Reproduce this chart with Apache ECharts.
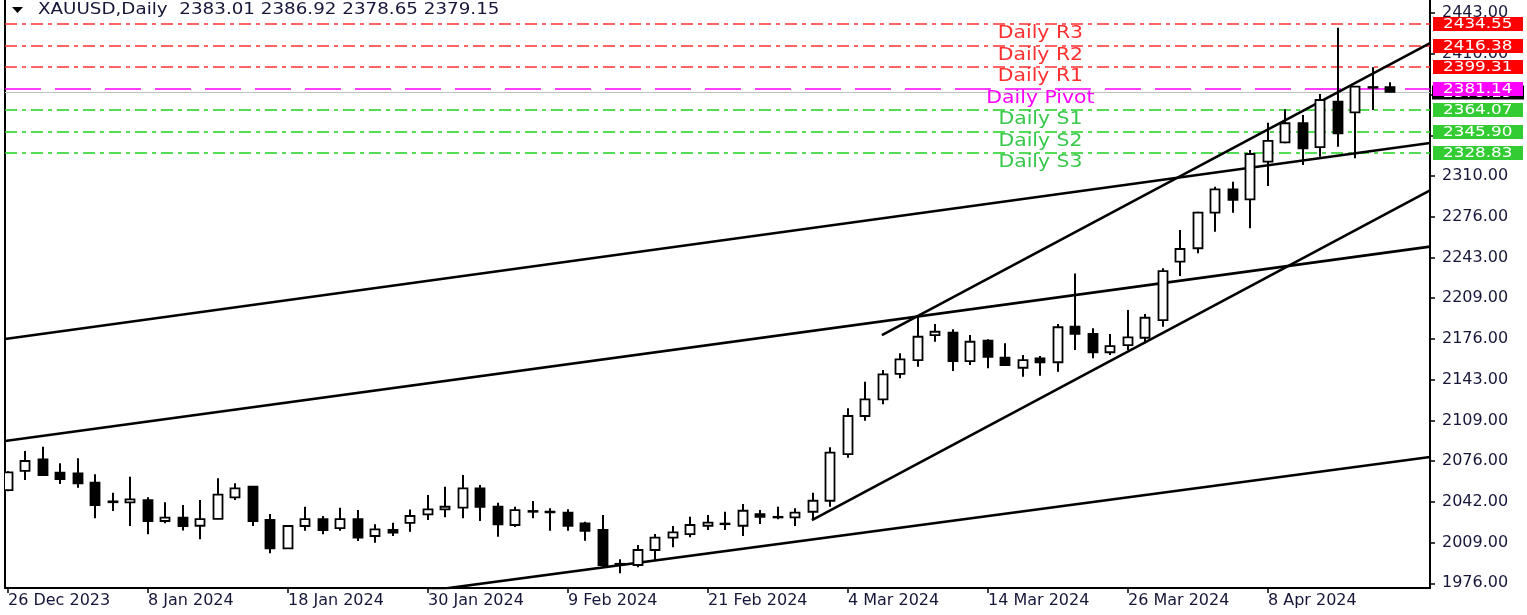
<!DOCTYPE html>
<html><head><meta charset="utf-8">
<script src="https://cdn.jsdelivr.net/npm/echarts@6/dist/echarts.min.js"></script>
<style>html,body{margin:0;padding:0;background:#fff}#c{width:1527px;height:615px}</style>
</head><body><div id="c"></div>
<script>
// ---------------- data ----------------
const symbolName = 'XAUUSD,Daily';
const dates = ['26 Dec 2023','27 Dec 2023','28 Dec 2023','29 Dec 2023','2 Jan 2024','3 Jan 2024','4 Jan 2024','5 Jan 2024',
  '8 Jan 2024','9 Jan 2024','10 Jan 2024','11 Jan 2024','12 Jan 2024','15 Jan 2024','16 Jan 2024','17 Jan 2024',
  '18 Jan 2024','19 Jan 2024','22 Jan 2024','23 Jan 2024','24 Jan 2024','25 Jan 2024','26 Jan 2024','29 Jan 2024',
  '30 Jan 2024','31 Jan 2024','1 Feb 2024','2 Feb 2024','5 Feb 2024','6 Feb 2024','7 Feb 2024','8 Feb 2024',
  '9 Feb 2024','12 Feb 2024','13 Feb 2024','14 Feb 2024','15 Feb 2024','16 Feb 2024','19 Feb 2024','20 Feb 2024',
  '21 Feb 2024','22 Feb 2024','23 Feb 2024','26 Feb 2024','27 Feb 2024','28 Feb 2024','29 Feb 2024','1 Mar 2024',
  '4 Mar 2024','5 Mar 2024','6 Mar 2024','7 Mar 2024','8 Mar 2024','11 Mar 2024','12 Mar 2024','13 Mar 2024',
  '14 Mar 2024','15 Mar 2024','18 Mar 2024','19 Mar 2024','20 Mar 2024','21 Mar 2024','22 Mar 2024','25 Mar 2024',
  '26 Mar 2024','27 Mar 2024','28 Mar 2024','1 Apr 2024','2 Apr 2024','3 Apr 2024','4 Apr 2024','5 Apr 2024',
  '8 Apr 2024','9 Apr 2024','10 Apr 2024','11 Apr 2024','12 Apr 2024','15 Apr 2024','16 Apr 2024','17 Apr 2024'];
const opens = [2052.5,2068.2,2077.7,2066.7,2066.2,2058.5,2042.5,2042.4,2044.3,2027.1,2029.8,2023.2,2028.8,2046.5,2055.2,2027.9,
  2004.7,2023.0,2028.7,2021.2,2028.7,2014.8,2019.7,2025.5,2032.6,2036.7,2038.0,2053.9,2038.8,2023.8,2035.3,2034.8,
  2033.9,2025.2,2019.7,1991.5,1991.0,2003.3,2013.4,2016.4,2023.2,2025.0,2023.2,2032.8,2030.5,2030.1,2034.7,2043.7,
  2082.0,2113.2,2126.9,2147.7,2159.1,2179.6,2181.5,2158.3,2175.0,2161.0,2152.8,2160.5,2157.3,2186.4,2180.5,2165.5,
  2171.4,2177.4,2191.9,2239.8,2250.8,2280.0,2299.1,2290.9,2321.8,2337.7,2353.3,2333.7,2371.0,2362.3,2382.5,2383.01];
const highs = [2068.0,2084.5,2088.0,2074.4,2078.5,2065.4,2050.3,2063.4,2046.5,2042.4,2040.2,2044.3,2062.1,2058.0,2055.6,2032.8,
  2023.5,2038.8,2031.2,2038.0,2036.1,2024.4,2025.7,2036.6,2048.4,2055.2,2064.8,2056.6,2042.1,2038.8,2043.6,2037.5,
  2036.7,2026.5,2032.0,1995.7,2007.4,2016.4,2023.0,2030.6,2032.0,2034.7,2041.0,2036.1,2038.8,2037.5,2050.3,2087.5,
  2119.5,2141.3,2150.9,2164.6,2194.8,2188.6,2184.3,2179.6,2176.1,2172.8,2163.2,2162.4,2188.7,2230.0,2185.1,2180.5,
  2200.1,2196.9,2234.3,2265.8,2280.8,2301.3,2305.4,2331.4,2353.8,2364.8,2360.1,2377.3,2431.6,2383.9,2399.2,2386.92];
const lows = [2051.5,2060.7,2064.0,2057.4,2054.4,2029.3,2035.3,2023.0,2016.2,2025.2,2019.3,2012.1,2028.5,2044.3,2023.0,2000.6,
  2004.3,2019.1,2016.2,2019.1,2010.7,2009.3,2014.8,2018.3,2027.9,2030.1,2029.3,2027.1,2014.2,2022.2,2029.3,2019.1,
  2019.1,2010.9,1989.1,1984.2,1989.1,1995.1,2005.5,2013.7,2019.7,2019.7,2014.8,2024.6,2028.5,2023.0,2027.9,2038.8,
  2079.0,2109.3,2122.8,2144.1,2153.6,2174.1,2150.1,2155.0,2152.3,2154.2,2145.4,2146.3,2149.5,2167.3,2160.5,2163.2,
  2167.3,2172.8,2186.4,2228.0,2246.6,2264.4,2280.0,2267.2,2301.8,2336.9,2319.0,2325.9,2334.1,2324.6,2364.2,2378.65];
const closes = [2067.0,2076.3,2064.8,2061.5,2058.0,2040.2,2043.2,2044.9,2027.1,2029.8,2023.0,2028.7,2048.7,2053.9,2027.1,2004.7,
  2023.0,2028.7,2019.7,2028.7,2013.4,2020.3,2017.5,2031.2,2036.7,2038.8,2053.9,2038.8,2024.4,2036.1,2034.7,2034.2,
  2023.2,2019.1,1991.0,1992.0,2003.3,2013.4,2017.8,2023.8,2025.7,2024.5,2035.5,2030.6,2030.0,2033.9,2043.7,2083.1,
  2113.2,2126.9,2147.4,2159.7,2178.2,2182.3,2158.3,2174.1,2161.8,2155.0,2159.1,2157.3,2186.0,2180.5,2165.5,2170.6,
  2177.7,2193.8,2232.1,2250.2,2280.0,2299.1,2290.4,2328.1,2338.8,2353.3,2332.8,2372.4,2345.1,2383.3,2383.0,2379.15];
const xTickIndex = [0, 8, 16, 24, 32, 40, 48, 56, 64, 72];
const yTickValues = [1976, 2009.4, 2042.8, 2076.2, 2109.6, 2143, 2176.4, 2209.8, 2243.2, 2276.6, 2310, 2343.4, 2376.8, 2410.2, 2443.6];
const levelNames  = ['Daily R3', 'Daily R2', 'Daily R1', 'Daily Pivot', 'Daily S1', 'Daily S2', 'Daily S3'];
const levelValues = [2434.55, 2416.38, 2399.31, 2381.14, 2364.07, 2345.90, 2328.83];
const levelKinds  = ['R', 'R', 'R', 'P', 'S', 'S', 'S'];
// trend line anchors: [bar index, price]
const trendA = [[-0.17, 2176.4], [81.26, 2337.1]];
const trendB = [[-0.17, 2092.7], [81.26, 2252.1]];
const trendC = [[20.0, 1962.2], [81.26, 2079.6]];
const channelUpper = [[49.94, 2179.6], [81.26, 2419.1]];
const channelLower = [[45.94, 2027.9], [81.26, 2298.2]];

// ---------------- config ----------------
const X_MIN = -0.17, X_MAX = 81.26, Y_MIN = 1972.15, Y_MAX = 2454.4;
const LABEL_X = 59;
const FONT = '"DejaVu Sans", Verdana, sans-serif';
const TXT = '#16163a';
const levelStyle = {
  R: {line: '#ff3030', text: '#ff3030', box: '#ff0000', dash: [12, 5, 4, 5]},
  P: {line: '#ff00ff', text: '#ff00ff', box: '#ff00ff', dash: [36, 14]},
  S: {line: '#1ed21e', text: '#38c84c', box: '#33cc33', dash: [12, 5, 4, 5]}
};

const candleData = dates.map((d, i) => [i, opens[i], highs[i], lows[i], closes[i]]);
const last = candleData.length - 1;
const headerText = symbolName + '  ' + [opens[last], highs[last], lows[last], closes[last]].map(v => v.toFixed(2)).join(' ');
const bid = closes[last];

function renderCandle(params, api) {
  const i = api.value(0), o = api.value(1), h = api.value(2), l = api.value(3), c = api.value(4);
  const pO = api.coord([i, o]), pC = api.coord([i, c]), pH = api.coord([i, h]), pL = api.coord([i, l]);
  const x = Math.round(pO[0]);
  const w = 9;
  const top = Math.min(pO[1], pC[1]), bot = Math.max(pO[1], pC[1]);
  const up = c >= o;
  return {type: 'group', children: [
    {type: 'line', shape: {x1: x, y1: pH[1], x2: x, y2: pL[1]}, style: {stroke: '#000', lineWidth: 2}},
    {type: 'rect', shape: {x: x - w / 2, y: top, width: w, height: Math.max(bot - top, 0.01)},
      style: {fill: up ? '#fff' : '#000', stroke: '#000', lineWidth: 1.8}}
  ]};
}

function renderLevel(params, api) {
  const idx = params.dataIndex;
  const v = api.value(0);
  const st = levelStyle[levelKinds[idx]];
  const pL = api.coord([X_MIN, v]), pR = api.coord([X_MAX, v]), pN = api.coord([LABEL_X, v]);
  const y = Math.round(pL[1]);
  return {type: 'group', children: [
    {type: 'line', shape: {x1: pL[0], y1: y, x2: pR[0], y2: y}, style: {stroke: st.line, lineWidth: 1.5, lineDash: st.dash}},
    {type: 'text', x: pN[0], y: y + 9.5, scaleX: 1.2,
      style: {text: levelNames[idx], fill: st.text, fontSize: 17, fontFamily: FONT, align: 'center', verticalAlign: 'middle'}},
    {type: 'rect', shape: {x: pR[0] + 3, y: y - 7, width: 90, height: 14}, style: {fill: st.box}},
    {type: 'text', x: pR[0] + 13, y: y + 0.5, scaleX: 1.2,
      style: {text: v.toFixed(2), fill: '#fff', fontSize: 14, fontFamily: FONT, align: 'left', verticalAlign: 'middle'}}
  ]};
}

function renderBid(params, api) {
  const v = api.value(0);
  const pL = api.coord([X_MIN, v]), pR = api.coord([X_MAX, v]);
  const y = Math.round(pL[1]) + 0.5;
  return {type: 'group', children: [
    {type: 'line', shape: {x1: pL[0], y1: y, x2: pR[0], y2: y}, style: {stroke: '#c0c0c0', lineWidth: 1}},
    {type: 'rect', shape: {x: pR[0] + 2, y: y - 7, width: 92, height: 14}, style: {fill: '#000'}},
    {type: 'text', x: pR[0] + 13, y: y + 0.5, scaleX: 1.2,
      style: {text: v.toFixed(2), fill: '#fff', fontSize: 14, fontFamily: FONT, align: 'left', verticalAlign: 'middle'}}
  ]};
}

function trendSeries(pts) {
  return {type: 'line', data: pts, symbol: 'none', silent: true, clip: true, z: 3,
    lineStyle: {color: '#000', width: 2.6}, xAxisIndex: 0, yAxisIndex: 0};
}

const chart = echarts.init(document.getElementById('c'), null, {renderer: 'canvas'});
chart.setOption({
  animation: false,
  backgroundColor: '#fff',
  grid: {left: 5, right: 97, top: 0, bottom: 27, containLabel: false, outerBoundsMode: 'none'},
  xAxis: {
    type: 'value', min: X_MIN, max: X_MAX,
    axisLine: {show: true, onZero: false, lineStyle: {color: '#000', width: 2}},
    axisTick: {show: true, customValues: xTickIndex, length: 5, inside: false, lineStyle: {color: '#000', width: 1.5}},
    axisLabel: {customValues: xTickIndex, formatter: v => dates[Math.round(v)] || '', align: 'left', margin: 5,
      color: TXT, fontSize: 16, fontFamily: FONT},
    splitLine: {show: false}
  },
  yAxis: [{
    type: 'value', position: 'right', min: Y_MIN, max: Y_MAX,
    axisLine: {show: true, onZero: false, lineStyle: {color: '#000', width: 2}},
    axisTick: {show: true, customValues: yTickValues, length: 5, lineStyle: {color: '#000', width: 1.5}},
    axisLabel: {customValues: yTickValues, formatter: v => Math.floor(v + 1e-6).toFixed(2), margin: 12,
      color: TXT, fontSize: 16, fontFamily: FONT, verticalAlign: 'middle'},
    splitLine: {show: false}
  }, {
    type: 'value', position: 'left', min: Y_MIN, max: Y_MAX,
    axisLine: {show: true, onZero: false, lineStyle: {color: '#000', width: 2}},
    axisTick: {show: false}, axisLabel: {show: false}, splitLine: {show: false}
  }],
  graphic: [
    {type: 'polygon', shape: {points: [[12, 7], [23, 7], [17.5, 13]]}, style: {fill: '#000'}, z: 100},
    {type: 'text', x: 38, y: 10.5, scaleX: 1.22, z: 100,
      style: {text: headerText, fill: TXT, fontSize: 15, fontFamily: FONT, verticalAlign: 'middle'}}
  ],
  series: [
    {type: 'custom', name: 'bid', renderItem: renderBid, data: [[bid]], encode: {y: 0}, clip: false, silent: true, z: 1},
    {type: 'custom', name: 'levels', renderItem: renderLevel, data: levelValues.map(v => [v]), encode: {y: 0}, clip: false, silent: true, z: 2},
    trendSeries(trendA), trendSeries(trendB), trendSeries(trendC), trendSeries(channelUpper), trendSeries(channelLower),
    {type: 'custom', name: 'XAUUSD', renderItem: renderCandle, data: candleData, encode: {x: 0, y: [1, 2, 3, 4]}, clip: true, silent: true, z: 4}
  ]
});
</script></body></html>
